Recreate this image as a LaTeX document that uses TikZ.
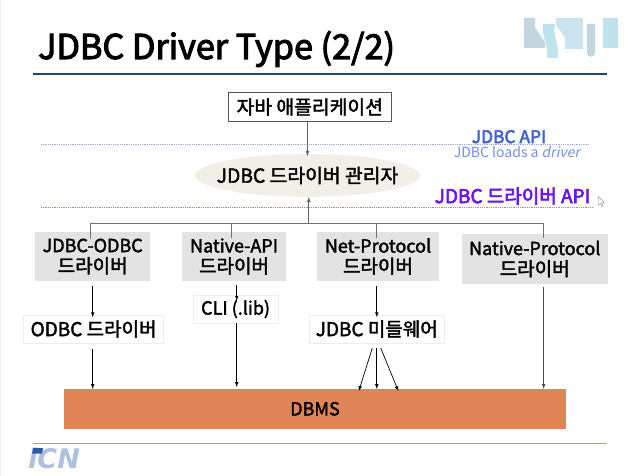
\documentclass[tikz,border=0pt]{standalone}
\usepackage{fontspec}
\setmainfont{Noto Sans CJK KR}[ItalicFont=Noto Sans CJK KR, ItalicFeatures={FakeSlant=0.2}]
\newfontfamily\medfont[FakeBold=2]{Noto Sans CJK KR}
\newfontfamily\titlefont[FakeBold=3]{Noto Sans CJK KR}
\newfontfamily\apifont[FakeBold=3.2]{Noto Sans CJK KR}
\newfontfamily\icnfont{DejaVu Sans}
\usepackage{xcolor}
\usetikzlibrary{positioning,shapes.geometric,arrows}
\definecolor{navyline}{HTML}{1F4673}
\definecolor{footline}{HTML}{8FA5C5}
\definecolor{apiblue}{HTML}{3F63CF}
\definecolor{loadblue}{HTML}{7391DC}
\definecolor{apiviolet}{HTML}{6A14EE}
\definecolor{dotblue}{HTML}{9AA8E4}
\definecolor{dotviolet}{HTML}{A678EE}
\definecolor{mgrfill}{HTML}{F2EEE8}
\definecolor{drvfill}{HTML}{E3E3E3}
\definecolor{dbmsfill}{HTML}{E08558}
\definecolor{logogray}{HTML}{C3D5DF}
\definecolor{logocyan}{HTML}{BFE3EC}
\definecolor{logopale}{HTML}{CBE4EF}
\definecolor{icnpale}{HTML}{ADC0DE}
\definecolor{icndark}{HTML}{2A5AA8}
\newcommand{\hangul}[1]{{\fontsize{19}{20}\selectfont #1}}

\begin{document}
\begin{tikzpicture}[
x=1pt, y=-1pt, >=latex,
drvbox/.style={rectangle, fill=drvfill, draw=none, inner sep=0pt, outer sep=0pt, minimum height=49.6pt, align=center, font=\fontsize{18}{20.7}\medfont},
libbox/.style={rectangle, fill=white, draw=black!7, inner sep=0pt, outer sep=0pt, minimum height=28.6pt, font=\fontsize{18}{20}\medfont},
flow/.style={->, draw=black, line width=0.7pt},
droop/.style={draw=black!55, line width=0.8pt},
busline/.style={draw=black!55, line width=1.1pt},
apilabel/.style={inner sep=0pt, font=\fontsize{17.4}{20}\apifont},
apiline/.style={densely dotted, line width=0.8pt},
]
\useasboundingbox (0,0) rectangle (638,476);
\fill[black!7] (0,0) rectangle (1,476);

%Title
\node (title) [anchor=base west, inner sep=0pt, font=\fontsize{34.2}{36}\titlefont] at (38,59) {JDBC Driver Type (2/2)};
\draw[navyline, line width=1.5pt] (33,74) -- (607,74);

%Logo top right
\fill[logogray] (524,18) -- (535,18) -- (535,28) -- (545,42) -- (545,48) -- (524,48) -- cycle;
\fill[logocyan] (543,24) -- (555,24) .. controls (552,34) and (559,42) .. (558,58) -- (547,58) .. controls (549,44) and (541,36) .. (543,24) -- cycle;
\fill[logopale] (556,18) -- (583,18) -- (583,49) -- (565,49) -- (565,38) -- (556,25) -- cycle;
\fill[logogray] (587,24) -- (595,24) -- (595,53) .. controls (595,58) and (587,58) .. (587,53) -- cycle;
\fill[logocyan] (603,18) rectangle (618,48);

%API lines
\draw[apiline, dotblue] (41,144) -- (589,144);
\draw[apiline, dotviolet] (41,207.3) -- (593,207.3);

%Application and manager
\node (app) [rectangle, draw=black!65, line width=0.8pt, minimum width=162.5pt, minimum height=28.6pt, inner sep=0pt, outer sep=0pt, font=\fontsize{19.3}{20}\medfont] at (309.8,107) {자바 애플리케이션};
\node (mgr) [ellipse, fill=mgrfill, minimum width=225pt, minimum height=42.7pt, inner sep=0pt, outer sep=0pt, font=\fontsize{19.3}{20}\medfont] at (307.5,175.5) {\makebox[0pt]{JDBC 드라이버 관리자}};

%API labels
\node (api) [apilabel, text=apiblue] at (509,136.7) {JDBC API};
\node (loads) [inner sep=0pt, text=loadblue, font=\fontsize{14}{15}\selectfont] at (517,152) {JDBC loads a \textit{driver}};
\node (drvapi) [apilabel, text=apiviolet, font=\fontsize{19}{20}\apifont] at (512.5,196) {JDBC 드라이버 API};

%Driver boxes
\node[drvbox, minimum width=114.6pt] (jo) at (92.7,256.5) {JDBC-ODBC\\\hangul{드라이버}};
\node[drvbox, minimum width=104.7pt] (na) [right=31.7pt of jo] {Native-API\\\hangul{드라이버}};
\node[drvbox, minimum width=122pt] (np) [right=30.6pt of na] {Net-Protocol\\\hangul{드라이버}};
\node[drvbox, minimum width=146.5pt] (pr) [right=22.5pt of np, yshift=-2.5pt] {Native-Protocol\\\hangul{드라이버}};

%Second row
\node[libbox, minimum width=140pt, font=\fontsize{19}{20}\medfont] (od) at (93.6,329) {ODBC 드라이버};
\node[libbox, minimum width=84.3pt] (cli) at (235.6,309) {CLI (.lib)};
\node[libbox, minimum width=134.4pt, font=\fontsize{19}{20}\medfont] (mw) at (376.8,329) {JDBC 미들웨어};

%DBMS
\node (dbms) [rectangle, fill=dbmsfill, minimum width=502pt, minimum height=39.7pt, inner sep=0pt, outer sep=0pt, font=\fontsize{18}{20}\medfont] at (315,408.8) {DBMS};

%Bus
\coordinate (bus) at (308.8,223.3);
\coordinate (busl) at (90.4,223.3);
\coordinate (busr) at (543.6,223.3);
\coordinate (busa) at (231.8,223.3);
\coordinate (busn) at (376.8,223.3);
\coordinate (flowa) at (236.7,223.3);
\draw[->, draw=black!60, line width=0.8pt] (bus) -- (mgr.south -| bus);
\draw[busline] (busl) -- (busr);
\draw[droop] (busl) -- (busl |- jo.north) -- +(0,7);
\draw[droop] (busa) -- (busa |- na.north) -- +(0,6);
\draw[droop] (busn) -- (busn |- np.north) -- +(0,6);
\draw[droop] (busr) -- (busr |- pr.north) -- +(0,4);

%Connections
\draw[->, draw=black!60, line width=0.8pt] (app.south -| mgr) -- ([yshift=-2pt]mgr.north);
\draw[flow, shorten <=5pt, shorten >=-2.5pt] (jo.south) -- (od.north -| jo.south);
\draw[flow, shorten <=6pt] (od.south -| jo.south) -- (dbms.north -| jo.south);
\draw[flow, shorten <=3.5pt, shorten >=-6pt] (flowa |- na.south) -- (flowa |- cli.north);
\draw[flow, shorten >=2pt] (flowa |- cli.south) -- (flowa |- dbms.north);
\draw[flow, shorten <=5pt, shorten >=-2.5pt] (busn |- np.south) -- (busn |- mw.north);
\draw[flow, shorten <=5pt] ([xshift=-3pt]mw.south) -- ([xshift=-18pt, yshift=-2pt]dbms.north -| mw.south);
\draw[flow, shorten <=5pt] (mw.south) -- (dbms.north -| mw.south);
\draw[flow, shorten <=5pt] ([xshift=2pt]mw.south) -- ([xshift=21.5pt, yshift=-2pt]dbms.north -| mw.south);
\draw[flow, draw=black!70, shorten <=3pt] (busr |- pr.south) -- (busr |- dbms.north);

%Footer
\draw[footline, line width=1pt] (33,443.3) -- (607,443.3);
\node (icn) [anchor=base west, inner sep=0pt, text=icnpale, font=\fontsize{27}{28}\icnfont\bfseries\itshape] at (28,468) {iCN};
\fill[icndark] (33,448) -- (43,448) -- (42,453.5) -- (32,453.5) -- cycle;

%Cursor
\draw[black!50, line width=0.4pt, fill=white] (598.5,196.5) -- (598.5,205) -- (600.5,203.5) -- (602,206.5) -- (603,206) -- (601.8,203) -- (604,202.5) -- cycle;
\end{tikzpicture}
\end{document}
